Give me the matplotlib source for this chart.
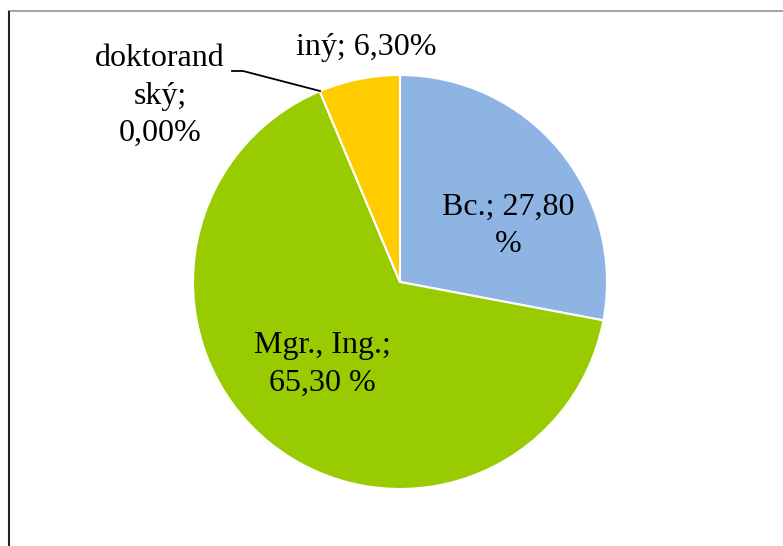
import matplotlib.pyplot as plt
from matplotlib.lines import Line2D

# data
categories = ['Bc.', 'Mgr., Ing.', 'doktorandský', 'iný']
values = [27.80, 65.30, 0.00, 6.30]
colors = ['#8EB4E3', '#99CC00', '#E46C0A', '#FFCC00']
labels = ['Bc.; 27,80\n%', 'Mgr., Ing.;\n65,30 %', 'doktorand\nský;\n0,00%', 'iný; 6,30%']

W, H = 783, 546
cx, cy, r = 400, 282, 207

fig = plt.figure(figsize=(W / 100, H / 100), dpi=100)
ax = fig.add_axes([0, 0, 1, 1])

wedges, _ = ax.pie(values, colors=colors, startangle=90, counterclock=False,
                   radius=1, wedgeprops=dict(edgecolor='white', linewidth=1.5))

# pie() resets the limits, so set them afterwards
ax.set_xlim(-cx / r, (W - cx) / r)
ax.set_ylim(-(H - cy) / r, cy / r)
ax.set_aspect('equal')
ax.axis('off')


def px(x, y):
    return ((x - cx) / r, (cy - y) / r)


font = dict(family='Liberation Serif', fontsize=23, color='black',
            ha='center', va='center', linespacing=1.4)

label_pos = [(508, 226), (322, 364), (160, 96), (366, 47)]
for lab, pos in zip(labels, label_pos):
    ax.text(*px(*pos), lab, **font)

# leader line for the zero slice
lx, ly = zip(px(232, 71), px(243, 71), px(320, 91))
ax.add_line(Line2D(lx, ly, color='black', linewidth=1.3))

# chart frame (cut off at right and bottom)
fig.add_artist(Line2D([9 / W, 1], [1 - 11 / H, 1 - 11 / H], transform=fig.transFigure,
                      color='#A6A6A6', linewidth=1.5))
fig.add_artist(Line2D([8.5 / W, 8.5 / W], [0, 1 - 12 / H], transform=fig.transFigure,
                      color='#222222', linewidth=1.5))

plt.savefig('out.png', dpi=100)
